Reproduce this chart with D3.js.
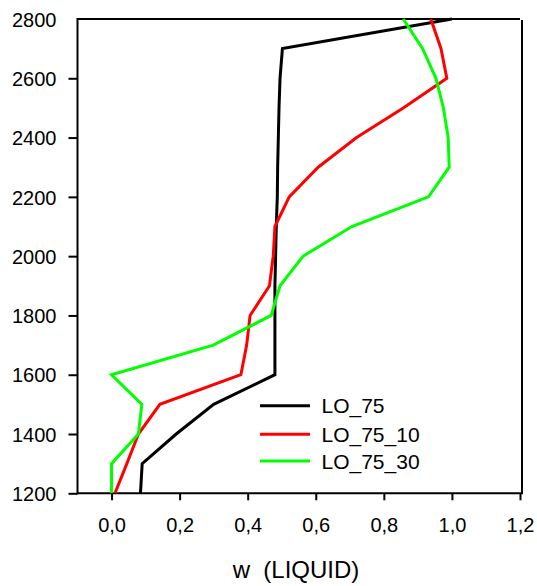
<!DOCTYPE html>
<html>
<head>
<meta charset="utf-8">
<script src="https://cdn.jsdelivr.net/npm/d3@7"></script>
<style>
  html, body { margin: 0; padding: 0; background: #fff; }
  svg { display: block; font-family: "Liberation Sans", Arial, sans-serif; }
</style>
</head>
<body>
<svg id="chart" width="537" height="586"></svg>
<script>
const depth = [1200,1300,1400,1500,1600,1700,1800,1900,2000,2100,2200,2300,2400,2500,2600,2700,2800];
const lo75    = [0.085,0.09,0.19,0.30,0.48,0.48,0.48,0.48,0.482,0.484,0.487,0.488,0.49,0.492,0.495,0.502,1.0];
const lo75_10 = [0.01,0.045,0.079,0.142,0.38,0.397,0.407,0.464,0.475,0.48,0.522,0.607,0.72,0.857,0.985,0.968,0.938];
const lo75_30 = [0.0,0.0,0.079,0.089,0.0,0.299,0.469,0.495,0.563,0.706,0.931,0.992,0.989,0.975,0.953,0.914,0.857];
const seriesNames = ["LO_75","LO_75_10","LO_75_30"];
const seriesColors = ["#000000","#ff0000","#00ff00"];
const xTicks = [0,0.2,0.4,0.6,0.8,1.0,1.2];
const yTicks = [1200,1400,1600,1800,2000,2200,2400,2600,2800];
const xTitle = "w  (LIQUID)";

(function () {
const svg = d3.select("#chart");
const pL = 77.5, pR = 520, pT = 19, pB = 493.3;
const x = d3.scaleLinear().domain([-0.1, 1.2]).range([pL, pR]);
const y = d3.scaleLinear().domain([1200, 2800]).range([pB, pT]);

// frame
const frame = svg.append("g").attr("stroke", "#000").attr("stroke-width", 2).attr("fill", "none");
frame.append("line").attr("x1", pL).attr("x2", pL).attr("y1", pT - 1).attr("y2", pB + 1);
frame.append("line").attr("x1", pL).attr("x2", pR).attr("y1", pT).attr("y2", pT);
frame.append("line").attr("x1", pR + 2).attr("x2", pR + 2).attr("y1", pT + 1).attr("y2", pB);
frame.append("line").attr("x1", pL).attr("x2", pR + 3).attr("y1", pB).attr("y2", pB);

// axes
const fmtX = v => d3.format(".1f")(v).replace(".", ",");
const xAxis = d3.axisBottom(x).tickValues(xTicks).tickSize(7).tickSizeOuter(0).tickPadding(6).tickFormat(fmtX);
const gx = svg.append("g").attr("transform", `translate(0,${pB})`).call(xAxis);
gx.select(".domain").remove();
gx.selectAll(".tick line").attr("stroke", "#000").attr("stroke-width", 2);
gx.selectAll(".tick text").attr("font-size", 20).attr("fill", "#000")
  .attr("font-family", "Liberation Sans, Arial, sans-serif").attr("dy", null).attr("y", 39);

const yAxis = d3.axisLeft(y).tickValues(yTicks).tickSize(9).tickSizeOuter(0).tickPadding(11).tickFormat(d3.format("d"));
const gy = svg.append("g").attr("transform", `translate(${pL},0)`).call(yAxis);
gy.select(".domain").remove();
gy.selectAll(".tick line").attr("stroke", "#000").attr("stroke-width", 2)
  .attr("display", d => d === 2800 ? "none" : null);
gy.selectAll(".tick text").attr("font-size", 20).attr("fill", "#000")
  .attr("font-family", "Liberation Sans, Arial, sans-serif").attr("x", -21).attr("dy", "0.36em");

// title
svg.append("text").attr("x", 232.7).attr("y", 578).attr("font-size", 24)
  .attr("fill", "#000").style("white-space", "pre").attr("xml:space", "preserve").text(xTitle);

// lines
const allSeries = [lo75, lo75_10, lo75_30];
const line = d3.line().x(d => x(d[0])).y(d => y(d[1]));
allSeries.forEach((vals, i) => {
  const pts = vals.map((v, j) => [v, depth[j]]);
  svg.append("path").datum(pts).attr("d", line)
    .attr("fill", "none").attr("stroke", seriesColors[i]).attr("stroke-width", 3);
});

// legend
const legY = [405.7, 434.3, 461];
const leg = svg.append("g");
seriesNames.forEach((n, i) => {
  leg.append("line").attr("x1", 260).attr("x2", 310).attr("y1", legY[i]).attr("y2", legY[i])
    .attr("stroke", seriesColors[i]).attr("stroke-width", 3);
  leg.append("text").attr("x", 321.5).attr("y", legY[i]).attr("dy", "0.36em")
    .attr("font-size", 21).attr("fill", "#000").text(n);
});
})();
</script>
</body>
</html>
